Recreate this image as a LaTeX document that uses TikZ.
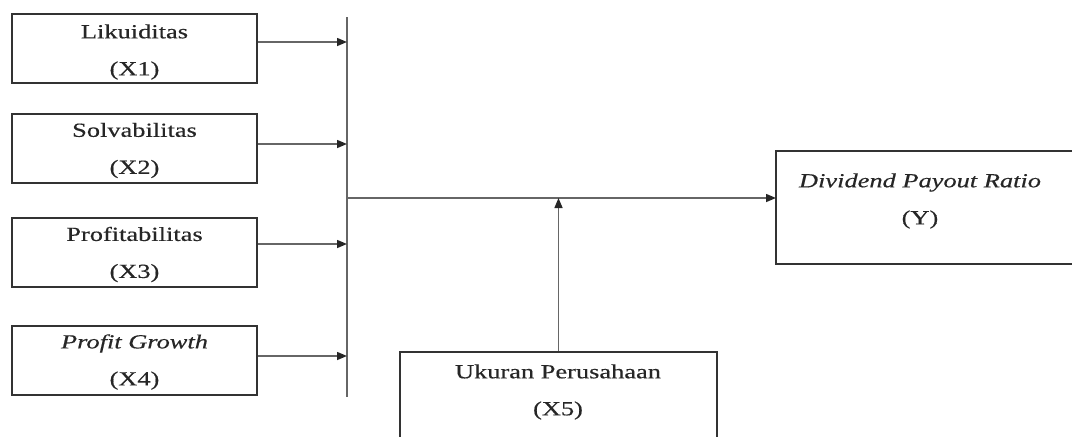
\documentclass[tikz,border=0pt]{standalone}
\usepackage{fontspec}
\setmainfont{Liberation Serif}[FakeBold=0.35]
\usepackage{graphicx}
\usetikzlibrary{arrows.meta}

\newcommand{\wide}[1]{\scalebox{1.32}[1]{#1}}

\tikzset{
  txt/.style={align=center, inner sep=0pt, text=black!85,
              font=\fontsize{15}{27.75}\selectfont},
  box/.style={draw=black!80, line width=1.5pt, inner sep=0pt,
              minimum width=183.75pt, minimum height=51.75pt},
  ln/.style={draw=black!60, line width=1.1pt},
  arr/.style={ln, -{Triangle[length=7.5pt, width=6pt, color=black!85]}},
}

\begin{document}
\begin{tikzpicture}[x=0.75pt, y=-0.75pt]
    \useasboundingbox (0,0) rectangle (1072,436);
    \clip (0,0) rectangle (1072,436);

    \node (X1) [box] at (134.5,48) {};
    \node (X2) [box] at (134.5,148.5) {};
    \node (X3) [box] at (134.5,252.5) {};
    \node (X4) [box] at (134.5,360) {};
    \node (X1txt) [txt] at ([yshift=-3pt]X1.center) {\wide{Likuiditas}\\\wide{(X1)}};
    \node (X2txt) [txt] at ([yshift=-1.5pt]X2.center) {\wide{Solvabilitas}\\\wide{(X2)}};
    \node (X3txt) [txt] at ([yshift=-1.5pt]X3.center) {\wide{Profitabilitas}\\\wide{(X3)}};
    \node (X4txt) [txt] at ([yshift=-1.5pt]X4.center) {\wide{\itshape Profit Growth}\\\wide{(X4)}};

    % box cut off by the right edge
    \node (Y) [box, draw=none, minimum width=300pt, minimum height=83.25pt] at (977,207.5) {};
    \draw [box] (Y.north east) -- (Y.north west) -- (Y.south west) -- (Y.south east);
    \node (Ytxt) [txt] at (920,201) {\wide{\itshape Dividend Payout Ratio}\\\wide{(Y)}};

    \node (X5) [box, minimum width=237.75pt, minimum height=90pt] at (558.5,412) {};
    \node (X5txt) [txt] at (558,392) {\wide{Ukuran Perusahaan}\\\wide{(X5)}};

    % collecting bar
    \coordinate (top) at (347,17);
    \coordinate (bot) at (347,397);
    \coordinate (mid) at (347,198);
    \draw [ln] (top) -- (bot);

    \draw [arr] (X1.east) ++(0,-6) coordinate (a1) -- (a1 -| top);
    \draw [arr] (X2.east) ++(0,-4.5) coordinate (a2) -- (a2 -| top);
    \draw [arr] (X3.east) ++(0,-8.5) coordinate (a3) -- (a3 -| top);
    \draw [arr] (X4.east) ++(0,-4) coordinate (a4) -- (a4 -| top);

    \draw [arr] (mid) -- (mid -| Y.west);
    \draw [arr] (X5.north) -- (X5.north |- mid);
\end{tikzpicture}
\end{document}
